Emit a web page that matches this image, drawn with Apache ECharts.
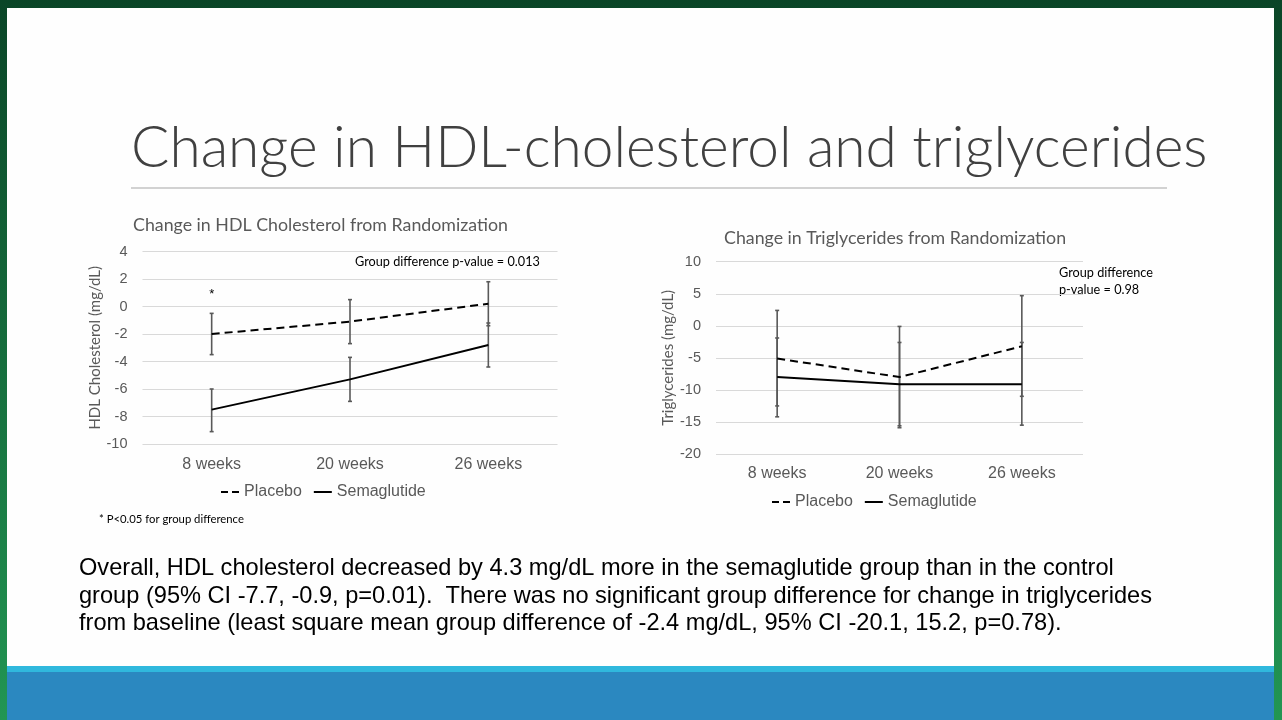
<!DOCTYPE html>
<html>
<head>
<meta charset="utf-8">
<title>Change in HDL-cholesterol and triglycerides</title>
<script src="https://cdn.jsdelivr.net/npm/echarts@6/dist/echarts.min.js"></script>
<style>
  html, body { margin: 0; padding: 0; background: #fff; }
  #main { width: 1282px; height: 720px; }
</style>
</head>
<body>
<div id="main"></div>
<script>
// x categories (same for both panels)
var weeks = ['8 weeks', '20 weeks', '26 weeks'];

// HDL cholesterol, change from randomization (mg/dL)
var hdlPlacebo = [-2.0, -1.1, 0.2];
var hdlPlaceboLow = [-3.5, -2.7, -1.4];
var hdlPlaceboHigh = [-0.5, 0.5, 1.8];
var hdlSema = [-7.5, -5.3, -2.8];
var hdlSemaLow = [-9.1, -6.9, -4.4];
var hdlSemaHigh = [-6.0, -3.7, -1.2];
var hdlTicks = { min: -10, max: 4, interval: 2 };

// Triglycerides, change from randomization (mg/dL)
var tgPlacebo = [-5.1, -8.0, -3.2];
var tgPlaceboLow = [-12.5, -15.9, -11.0];
var tgPlaceboHigh = [2.4, -0.1, 4.7];
var tgSema = [-8.0, -9.1, -9.1];
var tgSemaLow = [-14.2, -15.6, -15.5];
var tgSemaHigh = [-1.9, -2.6, -2.6];
var tgTicks = { min: -20, max: 10, interval: 5 };

var GRAY = '#595959';
var AXIS_FONT = '"Liberation Sans", Arial, sans-serif';
var CAL_FONT = 'Lato, "Open Sans", sans-serif';

// legend icons: short dashes / plain line
var DASH_ICON = 'path://M0,0h7v2h-7z M11,0h7v2h-7z';
var LINE_ICON = 'path://M0,0h18v2h-18z';

// build [index, low, high] rows for the error bar series
function errRows(low, high) {
  return low.map(function (v, i) { return [i, v, high[i]]; });
}

function renderErrorBar(params, api) {
  var lo = api.coord([api.value(0), api.value(1)]);
  var hi = api.coord([api.value(0), api.value(2)]);
  var w = 2;
  var st = { stroke: GRAY, lineWidth: 1.6 };
  return {
    type: 'group',
    children: [
      { type: 'line', shape: { x1: lo[0], y1: lo[1], x2: hi[0], y2: hi[1] }, style: st },
      { type: 'line', shape: { x1: lo[0] - w, y1: lo[1], x2: lo[0] + w, y2: lo[1] }, style: st },
      { type: 'line', shape: { x1: hi[0] - w, y1: hi[1], x2: hi[0] + w, y2: hi[1] }, style: st }
    ]
  };
}

function xAxisFor(idx, margin) {
  return {
    type: 'category',
    gridIndex: idx,
    data: weeks,
    axisLine: { show: false },
    axisTick: { show: false },
    axisLabel: { color: GRAY, fontSize: 16, fontFamily: AXIS_FONT, margin: margin }
  };
}

function yAxisFor(idx, ticks, name, gap) {
  return {
    type: 'value',
    gridIndex: idx,
    min: ticks.min,
    max: ticks.max,
    interval: ticks.interval,
    name: name,
    nameLocation: 'middle',
    nameGap: gap,
    nameTextStyle: { color: GRAY, fontSize: 15, fontFamily: CAL_FONT },
    axisLine: { show: false },
    axisTick: { show: false },
    axisLabel: { color: GRAY, fontSize: 14.5, fontFamily: AXIS_FONT, margin: 15 },
    splitLine: { lineStyle: { color: '#d9d9d9', width: 1 } }
  };
}

function legendFor(idx, left, top) {
  return {
    data: [{ name: 'Placebo', icon: DASH_ICON }, { name: 'Semaglutide', icon: LINE_ICON }],
    left: left, top: top,
    itemWidth: 18, itemHeight: 2, itemGap: 12,
    textStyle: { color: GRAY, fontSize: 16, fontFamily: AXIS_FONT },
    seriesIndex: idx
  };
}

function lineSeries(name, idx, data, dashed) {
  return {
    name: name,
    type: 'line',
    xAxisIndex: idx,
    yAxisIndex: idx,
    data: data,
    symbol: 'none',
    z: 3,
    lineStyle: { color: '#000', width: 2, type: dashed ? [8, 5] : 'solid' },
    itemStyle: { color: '#000' }
  };
}

function errSeries(idx, low, high) {
  return {
    type: 'custom',
    xAxisIndex: idx,
    yAxisIndex: idx,
    renderItem: renderErrorBar,
    encode: { x: 0, y: [1, 2] },
    data: errRows(low, high),
    silent: true,
    z: 2
  };
}

function getOption() {
  var placeboHdl = lineSeries('Placebo', 0, hdlPlacebo, true);
  // * marks significant group difference at 8 weeks
  placeboHdl.markPoint = {
    symbol: 'circle',
    symbolSize: 0,
    label: { show: true, formatter: '*', color: '#000', fontSize: 13 },
    data: [{ coord: [weeks[0], 0.9] }]
  };

  return {
    animation: false,
    backgroundColor: 'transparent',
    grid: [
      { left: 142.5, top: 251.5, width: 415, height: 192.5 },
      { left: 716, top: 261.7, width: 367, height: 192.3 }
    ],
    legend: [legendFor([0, 1], 216, 479), legendFor([4, 5], 767, 489)],
    xAxis: [xAxisFor(0, 13), xAxisFor(1, 12)],
    yAxis: [
      yAxisFor(0, hdlTicks, 'HDL Cholesterol (mg/dL)', 40),
      yAxisFor(1, tgTicks, 'Triglycerides (mg/dL)', 40)
    ],
    series: [
      placeboHdl,
      lineSeries('Semaglutide', 0, hdlSema, false),
      errSeries(0, hdlPlaceboLow, hdlPlaceboHigh),
      errSeries(0, hdlSemaLow, hdlSemaHigh),
      lineSeries('Placebo', 1, tgPlacebo, true),
      lineSeries('Semaglutide', 1, tgSema, false),
      errSeries(1, tgPlaceboLow, tgPlaceboHigh),
      errSeries(1, tgSemaLow, tgSemaHigh)
    ],
    graphic: [
      // slide frame
      {
        type: 'rect', z: -10, silent: true,
        shape: { x: 0, y: 0, width: 1282, height: 720 },
        style: {
          fill: new echarts.graphic.LinearGradient(0, 0, 0, 1, [
            { offset: 0, color: '#0a4527' },
            { offset: 1, color: '#229653' }
          ])
        }
      },
      { type: 'rect', z: -9, silent: true, shape: { x: 7, y: 8, width: 1267, height: 660 }, style: { fill: '#fefefe' } },
      { type: 'rect', z: -9, silent: true, shape: { x: 7, y: 666, width: 1267, height: 7 }, style: { fill: '#30b8dd' } },
      { type: 'rect', z: -9, silent: true, shape: { x: 7, y: 672, width: 1267, height: 48 }, style: { fill: '#2b88c0' } },
      // slide title + rule
      {
        type: 'text', left: 131, top: 120, silent: true,
        style: { text: 'Change in HDL-cholesterol and triglycerides', fill: '#404040', fontSize: 56.8, fontWeight: 300, fontFamily: CAL_FONT }
      },
      { type: 'line', silent: true, shape: { x1: 131, y1: 188, x2: 1167, y2: 188 }, style: { stroke: '#a6a6a6', lineWidth: 1 } },
      // panel titles
      {
        type: 'text', left: 133, top: 216, silent: true,
        style: { text: 'Change in HDL Cholesterol from Randomization', fill: GRAY, fontSize: 17.8, fontFamily: CAL_FONT }
      },
      {
        type: 'text', left: 724, top: 229, silent: true,
        style: { text: 'Change in Triglycerides from Randomization', fill: GRAY, fontSize: 17.8, fontFamily: CAL_FONT }
      },
      // p-value notes
      {
        type: 'text', left: 355, top: 255, silent: true,
        style: { text: 'Group difference p-value = 0.013', fill: '#000', fontSize: 12.7, fontFamily: CAL_FONT }
      },
      {
        type: 'text', left: 1059, top: 264, silent: true,
        style: { text: 'Group difference\np-value = 0.98', fill: '#000', fontSize: 12.7, lineHeight: 17, fontFamily: CAL_FONT }
      },
      {
        type: 'text', left: 99, top: 514, silent: true,
        style: { text: '* P<0.05 for group difference', fill: '#000', fontSize: 11.3, fontFamily: CAL_FONT }
      },
      // summary paragraph
      {
        type: 'text', left: 79, top: 555, silent: true,
        style: {
          text: 'Overall, HDL cholesterol decreased by 4.3 mg/dL more in the semaglutide group than in the control\n' +
            'group (95% CI -7.7, -0.9, p=0.01).  There was no significant group difference for change in triglycerides\n' +
            'from baseline (least square mean group difference of -2.4 mg/dL, 95% CI -20.1, 15.2, p=0.78).',
          fill: '#000', fontSize: 23.6, lineHeight: 27.5, fontFamily: AXIS_FONT
        }
      }
    ]
  };
}

var chart = echarts.init(document.getElementById('main'), null, { renderer: 'canvas' });
chart.setOption(getOption());
</script>
</body>
</html>
